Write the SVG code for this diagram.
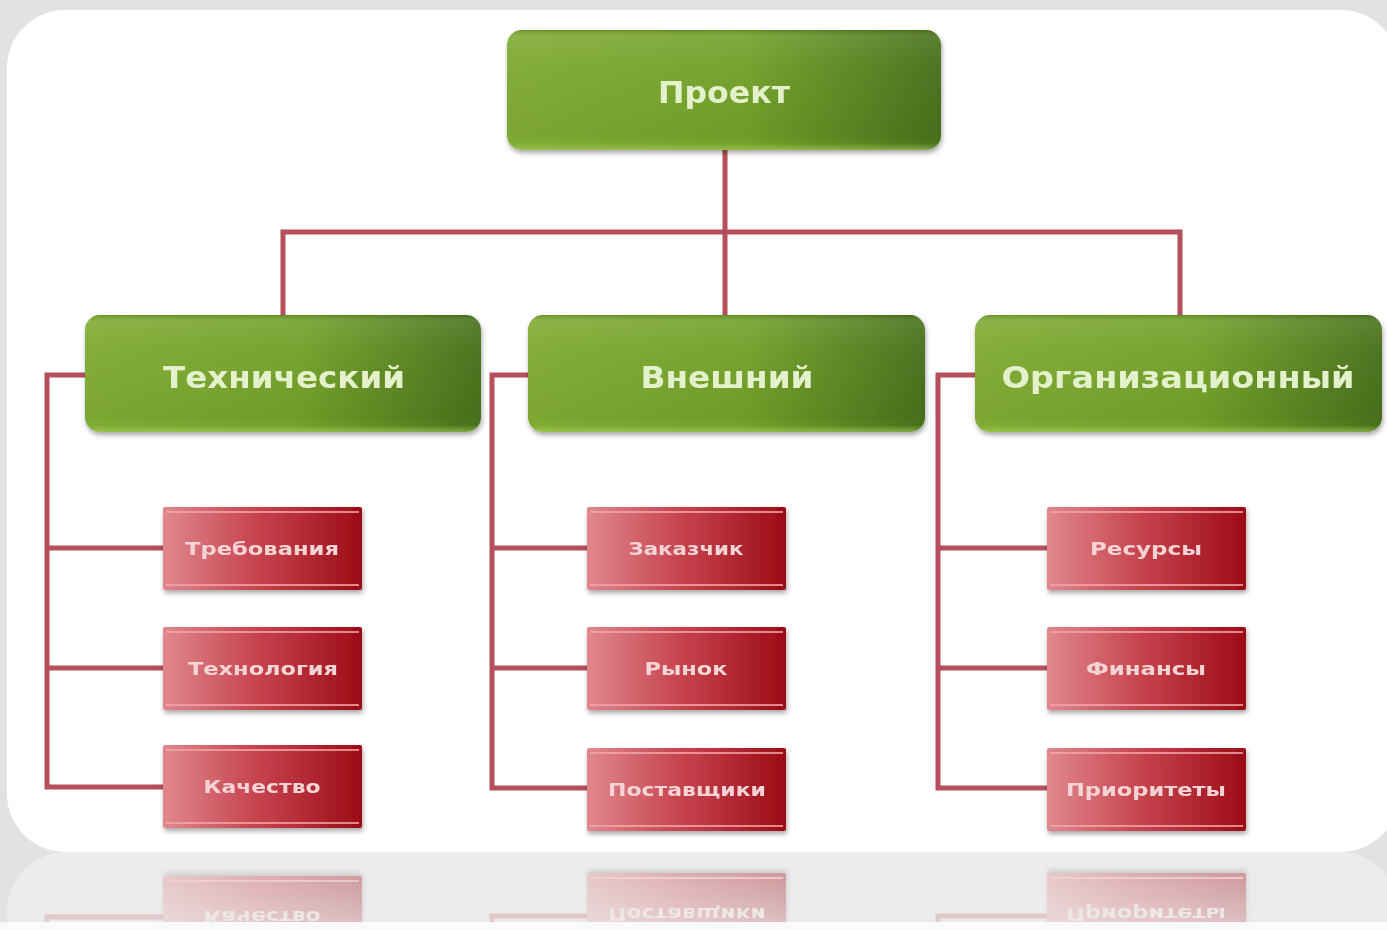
<svg xmlns="http://www.w3.org/2000/svg" xmlns:xlink="http://www.w3.org/1999/xlink" width="1387" height="930" viewBox="0 0 1387 930">
  <defs>
    <linearGradient id="gH" x1="0" y1="0" x2="1" y2="0">
      <stop offset="0" stop-color="#80ab33"/>
      <stop offset="0.55" stop-color="#72a02a"/>
      <stop offset="1" stop-color="#48701b"/>
    </linearGradient>
    <linearGradient id="gV" x1="0" y1="0" x2="0" y2="1">
      <stop offset="0" stop-color="#2f4a10" stop-opacity="0.25"/>
      <stop offset="0.06" stop-color="#ffffff" stop-opacity="0.10"/>
      <stop offset="0.3" stop-color="#ffffff" stop-opacity="0.03"/>
      <stop offset="0.88" stop-color="#000000" stop-opacity="0.03"/>
      <stop offset="0.94" stop-color="#a8d060" stop-opacity="0.0"/>
      <stop offset="1" stop-color="#b2d86a" stop-opacity="0.55"/>
    </linearGradient>
    <linearGradient id="rH" x1="0" y1="0" x2="1" y2="0">
      <stop offset="0" stop-color="#e0888e"/>
      <stop offset="0.45" stop-color="#c84650"/>
      <stop offset="1" stop-color="#9c0c16"/>
    </linearGradient>
    <linearGradient id="fade" x1="0" y1="0" x2="0" y2="1">
      <stop offset="0" stop-color="#fff" stop-opacity="0.45"/>
      <stop offset="1" stop-color="#fff" stop-opacity="0.2"/>
    </linearGradient>
    <mask id="reflMask" maskUnits="userSpaceOnUse" x="0" y="852" width="1387" height="70">
      <rect x="0" y="852" width="1387" height="70" fill="url(#fade)"/>
    </mask>
    <clipPath id="reflClip">
      <rect x="0" y="852" width="1387" height="70"/>
    </clipPath>
    <filter id="sh" x="-10%" y="-20%" width="120%" height="150%">
      <feDropShadow dx="1" dy="3" stdDeviation="2.5" flood-color="#000" flood-opacity="0.35"/>
    </filter>
    <style>
      .conn { fill: none; stroke: #b44f5b; stroke-width: 5; stroke-linejoin: miter; }
      .gbox { fill: url(#gH); }
      .gover { fill: url(#gV); }
      .gtxt { font-family: "DejaVu Sans", "Liberation Sans", sans-serif; font-weight: bold; font-size: 30px; fill: #e4f2cc; text-anchor: middle; }
      .rbox { fill: url(#rH); }
      .rline { fill: none; stroke: #f2a6aa; stroke-width: 2; opacity: 0.8; }
      .rtxt { font-family: "DejaVu Sans", "Liberation Sans", sans-serif; font-weight: bold; font-size: 17px; fill: #f6d4d6; text-anchor: middle; }
    </style>
  </defs>

  <!-- background -->
  <rect x="0" y="0" width="1387" height="930" fill="#e2e2e2"/>
  <rect x="0" y="922" width="1387" height="8" fill="#fafafa"/>
  <!-- reflected panel -->
  <g clip-path="url(#reflClip)">
    <rect x="7" y="852" width="1392" height="200" rx="60" fill="#ececec"/>
  </g>
  <!-- main panel -->
  <rect x="7" y="10" width="1392" height="842" rx="58" fill="#ffffff"/>

  <!-- connectors -->
  <g id="connectors">
    <path class="conn" d="M725,150 V315 M283,315 V232 H1180 V315"/>
    <path id="c-left" class="conn" d="M85,375 H47 V787 H163 M47,548 H163 M47,668 H163"/>
    <path id="c-mid" class="conn" d="M528,375 H492 V788 H587 M492,548 H587 M492,668 H587"/>
    <path id="c-right" class="conn" d="M975,375 H938 V788 H1047 M938,548 H1047 M938,668 H1047"/>
  </g>

  <!-- green nodes -->
  <g id="n-proekt" filter="url(#sh)">
    <rect class="gbox" x="507" y="30" width="434" height="120" rx="15"/>
    <rect class="gover" x="507" y="30" width="434" height="120" rx="15"/>
    <text class="gtxt" x="724" y="103" textLength="132" lengthAdjust="spacingAndGlyphs">Проект</text>
  </g>
  <g id="n-tech" filter="url(#sh)">
    <rect class="gbox" x="85" y="315" width="396" height="117" rx="15"/>
    <rect class="gover" x="85" y="315" width="396" height="117" rx="15"/>
    <text class="gtxt" x="284" y="388" textLength="242" lengthAdjust="spacingAndGlyphs">Технический</text>
  </g>
  <g id="n-vnesh" filter="url(#sh)">
    <rect class="gbox" x="528" y="315" width="397" height="117" rx="15"/>
    <rect class="gover" x="528" y="315" width="397" height="117" rx="15"/>
    <text class="gtxt" x="727" y="388" textLength="173" lengthAdjust="spacingAndGlyphs">Внешний</text>
  </g>
  <g id="n-org" filter="url(#sh)">
    <rect class="gbox" x="975" y="315" width="407" height="117" rx="15"/>
    <rect class="gover" x="975" y="315" width="407" height="117" rx="15"/>
    <text class="gtxt" x="1178" y="388" textLength="353" lengthAdjust="spacingAndGlyphs">Организационный</text>
  </g>

  <!-- red nodes: left column -->
  <g id="n-treb" filter="url(#sh)">
    <rect class="rbox" x="163" y="507" width="199" height="83" rx="2"/>
    <path class="rline" d="M166,512 H359 M166,585 H359"/>
    <text class="rtxt" x="262" y="555" textLength="154" lengthAdjust="spacingAndGlyphs">Требования</text>
  </g>
  <g id="n-tehn" filter="url(#sh)">
    <rect class="rbox" x="163" y="627" width="199" height="83" rx="2"/>
    <path class="rline" d="M166,632 H359 M166,705 H359"/>
    <text class="rtxt" x="263" y="675" textLength="150" lengthAdjust="spacingAndGlyphs">Технология</text>
  </g>
  <g id="n-kach" filter="url(#sh)">
    <rect class="rbox" x="163" y="745" width="199" height="83" rx="2"/>
    <path class="rline" d="M166,750 H359 M166,823 H359"/>
    <text class="rtxt" x="262" y="793" textLength="117" lengthAdjust="spacingAndGlyphs">Качество</text>
  </g>

  <!-- red nodes: middle column -->
  <g id="n-zak" filter="url(#sh)">
    <rect class="rbox" x="587" y="507" width="199" height="83" rx="2"/>
    <path class="rline" d="M590,512 H783 M590,585 H783"/>
    <text class="rtxt" x="686" y="555" textLength="115" lengthAdjust="spacingAndGlyphs">Заказчик</text>
  </g>
  <g id="n-rynok" filter="url(#sh)">
    <rect class="rbox" x="587" y="627" width="199" height="83" rx="2"/>
    <path class="rline" d="M590,632 H783 M590,705 H783"/>
    <text class="rtxt" x="686" y="675" textLength="83" lengthAdjust="spacingAndGlyphs">Рынок</text>
  </g>
  <g id="n-post" filter="url(#sh)">
    <rect class="rbox" x="587" y="748" width="199" height="83" rx="2"/>
    <path class="rline" d="M590,753 H783 M590,826 H783"/>
    <text class="rtxt" x="687" y="796" textLength="158" lengthAdjust="spacingAndGlyphs">Поставщики</text>
  </g>

  <!-- red nodes: right column -->
  <g id="n-res" filter="url(#sh)">
    <rect class="rbox" x="1047" y="507" width="199" height="83" rx="2"/>
    <path class="rline" d="M1050,512 H1243 M1050,585 H1243"/>
    <text class="rtxt" x="1146" y="555" textLength="112" lengthAdjust="spacingAndGlyphs">Ресурсы</text>
  </g>
  <g id="n-fin" filter="url(#sh)">
    <rect class="rbox" x="1047" y="627" width="199" height="83" rx="2"/>
    <path class="rline" d="M1050,632 H1243 M1050,705 H1243"/>
    <text class="rtxt" x="1146" y="675" textLength="120" lengthAdjust="spacingAndGlyphs">Финансы</text>
  </g>
  <g id="n-prior" filter="url(#sh)">
    <rect class="rbox" x="1047" y="748" width="199" height="83" rx="2"/>
    <path class="rline" d="M1050,753 H1243 M1050,826 H1243"/>
    <text class="rtxt" x="1146" y="796" textLength="160" lengthAdjust="spacingAndGlyphs">Приоритеты</text>
  </g>

  <!-- reflection -->
  <g id="reflection" clip-path="url(#reflClip)">
    <g mask="url(#reflMask)">
      <g transform="translate(0,1704) scale(1,-1)">
        <use xlink:href="#c-left"/>
        <use xlink:href="#c-mid"/>
        <use xlink:href="#c-right"/>
        <use xlink:href="#n-kach"/>
        <use xlink:href="#n-post"/>
        <use xlink:href="#n-prior"/>
      </g>
    </g>
  </g>
</svg>
